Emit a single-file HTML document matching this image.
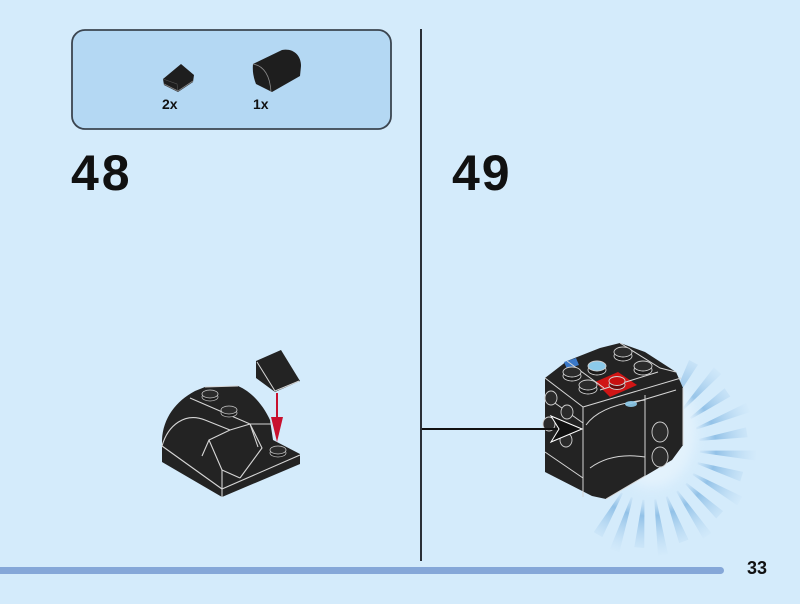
<!DOCTYPE html>
<html>
<head>
<meta charset="utf-8">
<style>
  html,body{margin:0;padding:0;background:#d4ebfb;}
  body{width:800px;height:604px;overflow:hidden;}
  svg{display:block;}
  text{font-family:"Liberation Sans",sans-serif;font-weight:bold;fill:#111;}
</style>
</head>
<body>
<svg width="800" height="604" viewBox="0 0 800 604" xmlns="http://www.w3.org/2000/svg">
  <defs>
    <linearGradient id="ray" gradientUnits="userSpaceOnUse" x1="698" y1="0" x2="758" y2="0">
      <stop offset="0" stop-color="#cfe6f8" stop-opacity="0.6"/>
      <stop offset="0.3" stop-color="#86bae4" stop-opacity="0.85"/>
      <stop offset="1" stop-color="#b5d6f1" stop-opacity="0"/>
    </linearGradient>
    <filter id="blur" x="-50%" y="-50%" width="200%" height="200%">
      <feGaussianBlur stdDeviation="6"/>
    </filter>
  </defs>

  <rect width="800" height="604" fill="#d4ebfb"/>

  <!-- parts box -->
  <rect x="72" y="30" width="319" height="99" rx="13" fill="#b4d8f3" stroke="#3b4550" stroke-width="1.8"/>
  <!-- small slope -->
  <path d="M163,79 L181,64 L194,75 L193,82 L178,92 L164,85 Z" fill="#1e1e1e"/>
  <path d="M164,84 L178,91 L193,81" fill="none" stroke="#8a8a8a" stroke-width="0.8"/>
  <path d="M178,91 L177,84 L163,79" fill="none" stroke="#555" stroke-width="0.6"/>
  <!-- curved slope -->
  <path d="M253,64 L282,50 C293,48 301,55 301,66 L300,76 L272,92 L256,84 Q252,74 253,64 Z" fill="#1e1e1e"/>
  <path d="M253,64 C264,66 270,76 271,92" fill="none" stroke="#8a8a8a" stroke-width="0.8"/>
  <text x="162" y="109" font-size="14">2x</text>
  <text x="253" y="109" font-size="14">1x</text>

  <!-- divider -->
  <line x1="421" y1="29" x2="421" y2="561" stroke="#2a2f36" stroke-width="2"/>

  <!-- step numbers -->
  <text x="71" y="190" font-size="50" letter-spacing="3">48</text>
  <text x="452" y="190" font-size="50" letter-spacing="2">49</text>

  <!-- bottom bar -->
  <rect x="-6" y="567" width="730" height="7" rx="3.5" fill="#85a7d8"/>
  <text x="747" y="574" font-size="18">33</text>

  <!-- ===== Step 48 model ===== -->
  <path d="M162,453 L162,440 C163,418 176,401 195,391 L205,387 L238,386 C252,392 263,405 270,420 L273,440 L300,454 L300,464 L222,497 L162,462 Z" fill="#232323"/>
  <g fill="none" stroke="#d6d6d6" stroke-width="1.1" stroke-linejoin="round">
    <path d="M162,446 L222,489 L300,455"/>
    <path d="M222,489 L222,497"/>
    <path d="M190,398 L250,424 L272,424"/>
    <path d="M162,446 C168,425 185,412 205,420 L230,430"/>
    <path d="M202,456 L209,440 L230,430 L250,424 L262,448 L240,478"/>
    <path d="M209,440 L222,470 L240,478"/>
    <path d="M222,470 L222,489"/>
    <path d="M250,424 L258,447"/>
    <path d="M205,387 L238,386"/>
  </g>
  <!-- studs on 48 -->
  <ellipse cx="210" cy="397" rx="8" ry="4" fill="#1a1a1a" stroke="#bbb" stroke-width="0.8"/>
  <ellipse cx="210" cy="394" rx="8" ry="4" fill="#2b2b2b" stroke="#ccc" stroke-width="0.8"/>
  <ellipse cx="229" cy="413" rx="8" ry="4" fill="#1a1a1a" stroke="#bbb" stroke-width="0.8"/>
  <ellipse cx="229" cy="410" rx="8" ry="4" fill="#2b2b2b" stroke="#ccc" stroke-width="0.8"/>
  <ellipse cx="278" cy="453" rx="8" ry="4" fill="#1a1a1a" stroke="#bbb" stroke-width="0.8"/>
  <ellipse cx="278" cy="450" rx="8" ry="4" fill="#2b2b2b" stroke="#ccc" stroke-width="0.8"/>
  <!-- floating slope -->
  <path d="M256,361 L281,350 L300,381 L275,392 L256,378 Z" fill="#232323"/>
  <path d="M257,362 L275,391 L299,381" fill="none" stroke="#d6d6d6" stroke-width="1"/>
  <!-- red arrow -->
  <line x1="277" y1="393" x2="277" y2="430" stroke="#c8102e" stroke-width="2"/>
  <polygon points="271,417 283,417 277,442" fill="#c8102e"/>

  <!-- ===== Step 49 ===== -->
  <!-- sunburst -->
  <g fill="url(#ray)">
    <g transform="rotate(-62 648 448)"><polygon points="700,447 745,443 745,453 700,449"/></g>
    <g transform="rotate(-48 648 448)"><polygon points="700,447 752,443 752,453 700,449"/></g>
    <g transform="rotate(-35 648 448)"><polygon points="700,447 745,443 745,453 700,449"/></g>
    <g transform="rotate(-22 648 448)"><polygon points="700,447 756,443 756,453 700,449"/></g>
    <g transform="rotate(-9 648 448)"><polygon points="700,447 748,443 748,453 700,449"/></g>
    <g transform="rotate(4 648 448)"><polygon points="700,447 756,443 756,453 700,449"/></g>
    <g transform="rotate(17 648 448)"><polygon points="700,447 746,443 746,453 700,449"/></g>
    <g transform="rotate(30 648 448)"><polygon points="700,447 754,443 754,453 700,449"/></g>
    <g transform="rotate(43 648 448)"><polygon points="700,447 746,443 746,453 700,449"/></g>
    <g transform="rotate(56 648 448)"><polygon points="700,447 754,443 754,453 700,449"/></g>
    <g transform="rotate(69 648 448)"><polygon points="700,447 748,443 748,453 700,449"/></g>
    <g transform="rotate(82 648 448)"><polygon points="700,447 756,443 756,453 700,449"/></g>
    <g transform="rotate(95 648 448)"><polygon points="700,447 748,443 748,453 700,449"/></g>
    <g transform="rotate(108 648 448)"><polygon points="700,447 756,443 756,453 700,449"/></g>
    <g transform="rotate(120 648 448)"><polygon points="700,447 748,443 748,453 700,449"/></g>
  </g>
  <ellipse cx="652" cy="430" rx="44" ry="58" fill="#ffffff" opacity="0.35" filter="url(#blur)"/>

  <!-- cube silhouette -->
  <path d="M545,378 L567,361 L600,348 L620,343 L645,352 L676,372 L683,388 L683,445 L672,460 L645,476 L606,499 L592,496 L545,472 Z" fill="#232323"/>
  <!-- red tile -->
  <polygon points="595,382 618,372 637,385 610,397" fill="#d01515"/>
  <!-- blue small piece -->
  <polygon points="564,362 576,358 579,365 567,369" fill="#3a78c8"/>
  <g fill="none" stroke="#d6d6d6" stroke-width="1" stroke-linejoin="round">
    <path d="M545,378 L583,407 L681,378"/>
    <path d="M583,407 L583,497"/>
    <path d="M645,395 L645,476"/>
    <path d="M586,425 Q600,405 645,400"/>
    <path d="M590,468 Q612,452 645,457"/>
    <path d="M545,396 L583,423"/>
    <path d="M545,452 L583,478"/>
    <path d="M567,361 L604,388"/>
    <path d="M620,343 L660,368 L676,372"/>
    <path d="M600,390 L658,372"/>
    <path d="M626,405 L676,390"/>
    <path d="M683,388 L683,445"/>
    <path d="M606,499 L645,476"/>
  </g>
  <!-- top studs -->
  <g stroke="#cfcfcf" stroke-width="0.9">
    <ellipse cx="572" cy="376" rx="9" ry="5" fill="#1a1a1a"/>
    <ellipse cx="572" cy="372" rx="9" ry="5" fill="#2b2b2b"/>
    <ellipse cx="588" cy="389" rx="9" ry="5" fill="#1a1a1a"/>
    <ellipse cx="588" cy="385" rx="9" ry="5" fill="#2b2b2b"/>
    <ellipse cx="623" cy="356" rx="9" ry="5" fill="#1a1a1a"/>
    <ellipse cx="623" cy="352" rx="9" ry="5" fill="#2b2b2b"/>
    <ellipse cx="643" cy="370" rx="9" ry="5" fill="#1a1a1a"/>
    <ellipse cx="643" cy="366" rx="9" ry="5" fill="#2b2b2b"/>
    <ellipse cx="597" cy="370" rx="9" ry="5" fill="#1a1a1a"/>
    <ellipse cx="597" cy="366" rx="9" ry="5" fill="#8ccaea"/>
    <ellipse cx="617" cy="385" rx="8" ry="4.5" fill="#6a0a0a"/>
    <ellipse cx="617" cy="381" rx="8" ry="4.5" fill="#c81010"/>
  </g>
  <ellipse cx="631" cy="404" rx="6" ry="3" fill="#8ccaea" opacity="0.9"/>
  <!-- side studs -->
  <g fill="#2b2b2b" stroke="#cfcfcf" stroke-width="0.9">
    <ellipse cx="551" cy="398" rx="6" ry="7"/>
    <ellipse cx="567" cy="412" rx="6" ry="7"/>
    <ellipse cx="549" cy="424" rx="6" ry="7"/>
    <ellipse cx="566" cy="440" rx="6" ry="7"/>
    <ellipse cx="660" cy="432" rx="8" ry="10"/>
    <ellipse cx="660" cy="457" rx="8" ry="10"/>
  </g>

  <!-- black arrow -->
  <line x1="422" y1="429" x2="562" y2="429" stroke="#111" stroke-width="2"/>
  <polygon points="582,429 551,416 559,429 551,442" fill="#111" stroke="#ffffff" stroke-width="1"/>
</svg>
</body>
</html>
